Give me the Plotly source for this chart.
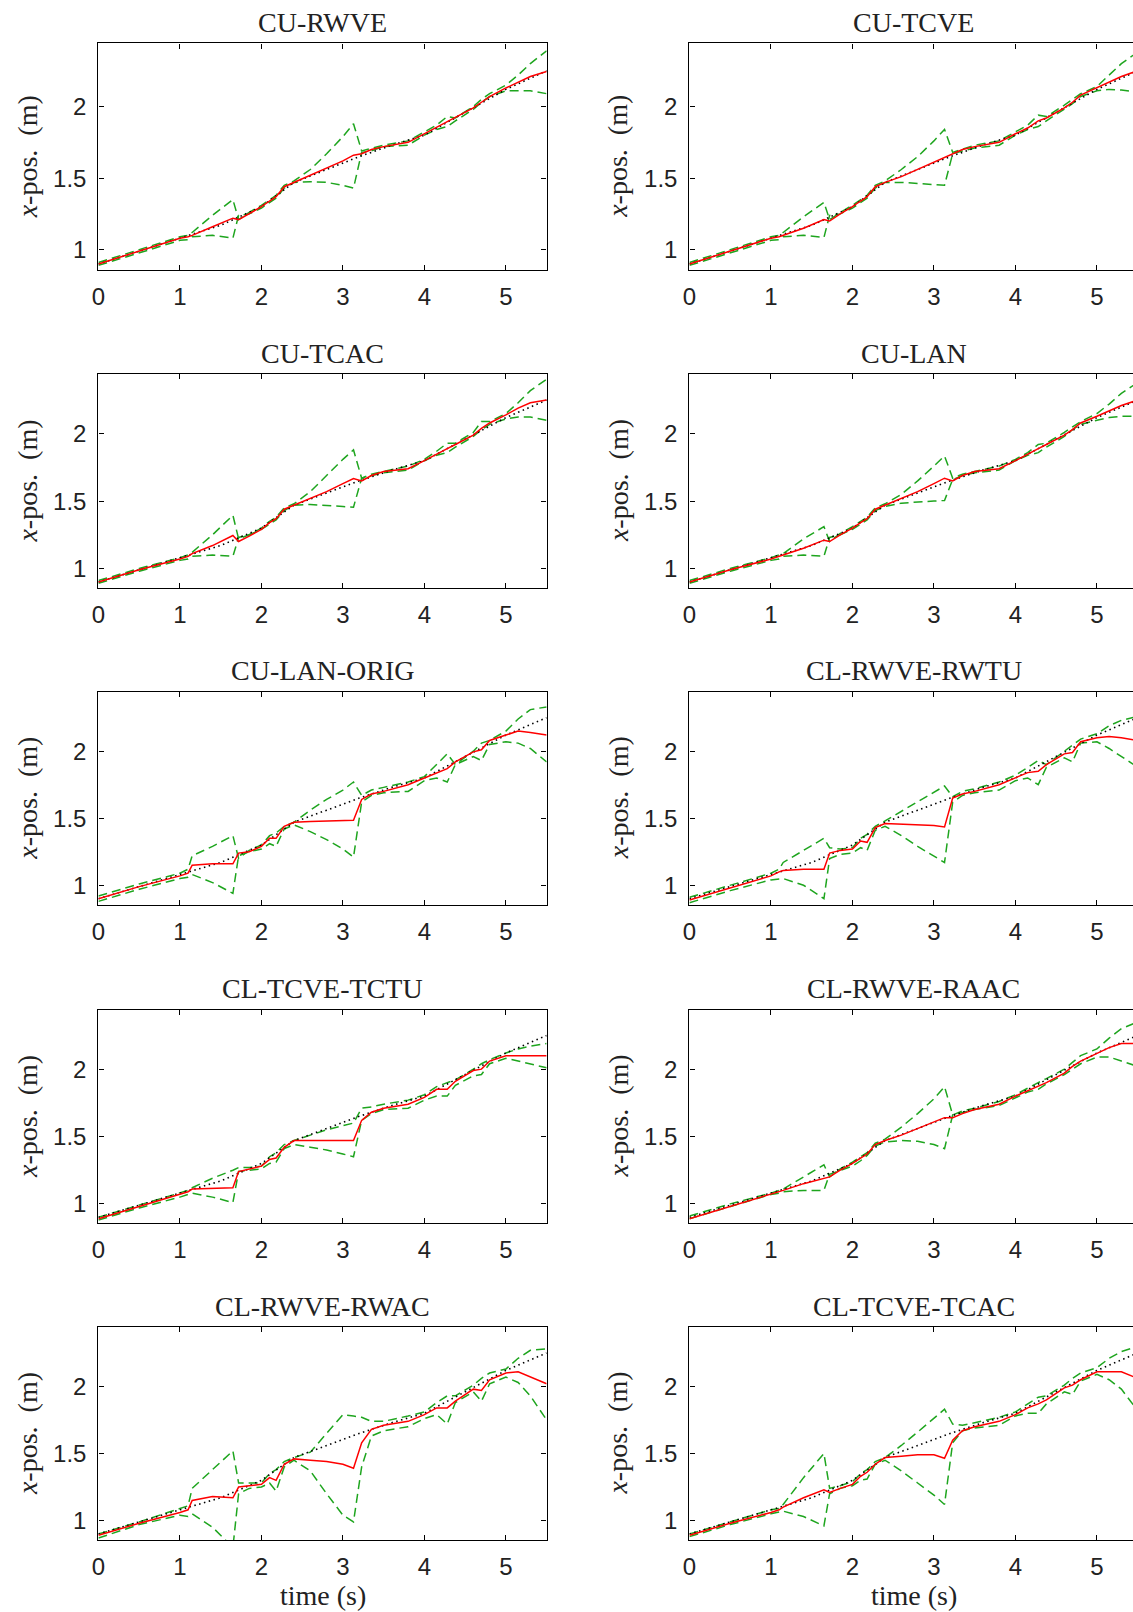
import plotly.graph_objects as go

# ---------------- data ----------------
T = [0.0, 0.5, 1.0, 1.1, 1.15, 1.4, 1.65, 1.72, 1.85, 2.0, 2.1, 2.18, 2.28, 2.4, 2.6, 2.8,
     3.0, 3.13, 3.23, 3.35, 3.5, 3.8, 4.0, 4.15, 4.28, 4.38, 4.6, 4.7, 4.8, 5.0, 5.15, 5.3, 5.5]

REF_T = [0.0, 0.5, 1.0, 1.5, 2.0, 2.4, 2.8, 3.2, 3.6, 4.0, 4.5, 5.0, 5.5]
REF_X = [0.90, 0.99, 1.08, 1.17, 1.30, 1.47, 1.56, 1.65, 1.73, 1.80, 1.96, 2.12, 2.25]

X_TICKS = [0, 1, 2, 3, 4, 5]
Y_TICKS = [1, 1.5, 2]
Y_TICK_TEXT = ["1", "1.5", "2"]

# CU-RWVE
RED_CU_RWVE = [.90, .99, 1.08, 1.09, 1.10, 1.16, 1.22, 1.21, 1.25, 1.30, 1.34, 1.37, 1.44, 1.47, 1.52, 1.57,
               1.62, 1.66, 1.67, 1.70, 1.72, 1.75, 1.81, 1.85, 1.89, 1.92, 1.99, 2.03, 2.07, 2.13, 2.17, 2.21, 2.245]
UP_CU_RWVE = [.91, 1.00, 1.09, 1.10, 1.12, 1.24, 1.35, 1.21, 1.26, 1.31, 1.35, 1.38, 1.45, 1.48, 1.56, 1.67,
              1.79, 1.88, 1.69, 1.71, 1.73, 1.76, 1.82, 1.87, 1.93, 1.92, 2.00, 2.05, 2.09, 2.15, 2.22, 2.30, 2.39]
LO_CU_RWVE = [.89, .98, 1.065, 1.07, 1.09, 1.10, 1.08, 1.24, 1.25, 1.29, 1.33, 1.36, 1.43, 1.47, 1.475, 1.47,
              1.45, 1.43, 1.68, 1.69, 1.72, 1.73, 1.80, 1.84, 1.86, 1.90, 1.98, 2.03, 2.07, 2.11, 2.11, 2.11, 2.09]

# CU-TCVE
RED_CU_TCVE = [.90, .99, 1.08, 1.09, 1.10, 1.15, 1.21, 1.20, 1.25, 1.30, 1.34, 1.37, 1.44, 1.47, 1.51, 1.56,
               1.61, 1.64, 1.67, 1.70, 1.72, 1.75, 1.81, 1.85, 1.90, 1.92, 1.99, 2.03, 2.08, 2.13, 2.17, 2.21, 2.25]
UP_CU_TCVE = [.91, 1.00, 1.09, 1.10, 1.12, 1.23, 1.33, 1.21, 1.26, 1.31, 1.35, 1.38, 1.45, 1.48, 1.56, 1.65,
              1.76, 1.84, 1.68, 1.70, 1.73, 1.76, 1.82, 1.87, 1.94, 1.93, 2.01, 2.05, 2.09, 2.14, 2.22, 2.30, 2.38]
LO_CU_TCVE = [.89, .98, 1.065, 1.07, 1.09, 1.10, 1.085, 1.24, 1.25, 1.29, 1.33, 1.36, 1.43, 1.47, 1.47, 1.465,
              1.455, 1.45, 1.67, 1.69, 1.71, 1.73, 1.80, 1.84, 1.86, 1.90, 1.98, 2.02, 2.07, 2.11, 2.12, 2.115, 2.10]

# CU-TCAC
RED_CU_TCAC = [.90, .99, 1.07, 1.09, 1.11, 1.17, 1.245, 1.20, 1.24, 1.29, 1.34, 1.37, 1.44, 1.47, 1.52, 1.57,
               1.63, 1.667, 1.65, 1.69, 1.72, 1.74, 1.80, 1.85, 1.89, 1.92, 1.99, 2.04, 2.08, 2.14, 2.19, 2.23, 2.25]
UP_CU_TCAC = [.91, 1.00, 1.08, 1.10, 1.12, 1.25, 1.395, 1.22, 1.25, 1.30, 1.35, 1.38, 1.45, 1.48, 1.57, 1.69,
              1.81, 1.88, 1.67, 1.70, 1.72, 1.76, 1.81, 1.87, 1.93, 1.93, 2.01, 2.09, 2.09, 2.15, 2.23, 2.32, 2.405]
LO_CU_TCAC = [.89, .98, 1.06, 1.07, 1.09, 1.10, 1.09, 1.23, 1.25, 1.29, 1.33, 1.36, 1.43, 1.47, 1.475, 1.47,
              1.46, 1.455, 1.67, 1.69, 1.71, 1.73, 1.80, 1.84, 1.86, 1.90, 1.98, 2.03, 2.07, 2.11, 2.125, 2.125, 2.10]

# CU-LAN
RED_CU_LAN = [.90, .99, 1.07, 1.09, 1.10, 1.15, 1.21, 1.20, 1.25, 1.30, 1.34, 1.37, 1.44, 1.47, 1.52, 1.57,
              1.63, 1.67, 1.65, 1.69, 1.72, 1.74, 1.80, 1.85, 1.89, 1.92, 1.99, 2.03, 2.08, 2.13, 2.17, 2.21, 2.25]
UP_CU_LAN = [.91, 1.00, 1.08, 1.10, 1.11, 1.22, 1.31, 1.20, 1.26, 1.31, 1.35, 1.38, 1.45, 1.48, 1.55, 1.65,
             1.76, 1.835, 1.67, 1.70, 1.72, 1.76, 1.81, 1.86, 1.92, 1.93, 2.01, 2.05, 2.09, 2.15, 2.22, 2.30, 2.38]
LO_CU_LAN = [.89, .98, 1.06, 1.07, 1.09, 1.10, 1.09, 1.23, 1.25, 1.29, 1.33, 1.36, 1.43, 1.46, 1.485, 1.49,
             1.50, 1.505, 1.66, 1.69, 1.71, 1.73, 1.80, 1.84, 1.86, 1.90, 1.98, 2.03, 2.07, 2.10, 2.12, 2.13, 2.13]

# CU-LAN-ORIG
RED_CU_LAN_ORIG = [.90, .99, 1.07, 1.09, 1.15, 1.16, 1.16, 1.24, 1.25, 1.29, 1.35, 1.35, 1.44, 1.47, 1.475, 1.48,
                   1.485, 1.485, 1.64, 1.68, 1.70, 1.75, 1.80, 1.84, 1.87, 1.92, 1.995, 2.01, 2.08, 2.12, 2.15, 2.14, 2.12]
UP_CU_LAN_ORIG = [.92, 1.01, 1.09, 1.12, 1.22, 1.29, 1.37, 1.20, 1.26, 1.30, 1.37, 1.39, 1.44, 1.47, 1.56, 1.64,
                  1.71, 1.77, 1.67, 1.71, 1.73, 1.77, 1.81, 1.90, 1.98, 1.90, 2.00, 2.06, 2.08, 2.15, 2.24, 2.31, 2.33]
LO_CU_LAN_ORIG = [.88, .97, 1.05, 1.06, 1.08, 1.02, 0.94, 1.22, 1.25, 1.27, 1.31, 1.29, 1.42, 1.45, 1.40, 1.34,
                  1.27, 1.21, 1.62, 1.67, 1.69, 1.70, 1.78, 1.80, 1.77, 1.90, 1.96, 1.93, 2.05, 2.07, 2.06, 2.02, 1.92]

# CL-RWVE-RWTU
RED_CL_RWVE_RWTU = [.89, .98, 1.07, 1.10, 1.11, 1.12, 1.12, 1.24, 1.26, 1.27, 1.33, 1.32, 1.43, 1.46, 1.455, 1.45,
                    1.445, 1.435, 1.65, 1.68, 1.70, 1.75, 1.80, 1.84, 1.85, 1.90, 1.98, 1.99, 2.07, 2.10, 2.11, 2.10, 2.08]
UP_CL_RWVE_RWTU = [.91, 1.00, 1.09, 1.12, 1.17, 1.26, 1.35, 1.28, 1.27, 1.28, 1.35, 1.38, 1.44, 1.48, 1.55, 1.62,
                   1.69, 1.74, 1.66, 1.70, 1.72, 1.77, 1.82, 1.88, 1.93, 1.90, 2.00, 2.05, 2.09, 2.13, 2.19, 2.23, 2.26]
LO_CL_RWVE_RWTU = [.87, .96, 1.04, 1.05, 1.05, 1.00, 0.90, 1.20, 1.23, 1.24, 1.28, 1.26, 1.41, 1.44, 1.37, 1.29,
                   1.22, 1.17, 1.62, 1.67, 1.69, 1.71, 1.78, 1.80, 1.75, 1.88, 1.95, 1.92, 2.06, 2.07, 2.02, 1.96, 1.88]

# CL-TCVE-TCTU
RED_CL_TCVE_TCTU = [.89, .98, 1.07, 1.09, 1.11, 1.115, 1.12, 1.24, 1.26, 1.28, 1.33, 1.34, 1.42, 1.47, 1.47, 1.47,
                    1.47, 1.47, 1.62, 1.68, 1.71, 1.74, 1.79, 1.85, 1.85, 1.91, 1.99, 2.00, 2.06, 2.10, 2.10, 2.10, 2.10]
UP_CL_TCVE_TCTU = [.90, .99, 1.08, 1.10, 1.12, 1.19, 1.25, 1.27, 1.27, 1.28, 1.35, 1.38, 1.44, 1.47, 1.51, 1.55,
                   1.58, 1.60, 1.71, 1.72, 1.74, 1.77, 1.81, 1.87, 1.90, 1.92, 2.00, 2.04, 2.07, 2.12, 2.15, 2.17, 2.19]
LO_CL_TCVE_TCTU = [.88, .97, 1.05, 1.07, 1.08, 1.05, 1.01, 1.24, 1.25, 1.26, 1.30, 1.31, 1.41, 1.44, 1.42, 1.40,
                   1.37, 1.35, 1.62, 1.67, 1.70, 1.71, 1.77, 1.80, 1.80, 1.88, 1.95, 1.96, 2.04, 2.08, 2.06, 2.04, 2.01]

# CL-RWVE-RAAC
RED_CL_RWVE_RAAC = [.89, .98, 1.07, 1.09, 1.10, 1.15, 1.19, 1.20, 1.25, 1.30, 1.34, 1.37, 1.44, 1.47, 1.51, 1.56,
                    1.61, 1.64, 1.64, 1.67, 1.70, 1.74, 1.80, 1.84, 1.87, 1.90, 1.97, 2.02, 2.06, 2.12, 2.16, 2.19, 2.19]
UP_CL_RWVE_RAAC = [.91, 1.00, 1.08, 1.10, 1.11, 1.20, 1.29, 1.20, 1.26, 1.31, 1.35, 1.38, 1.45, 1.48, 1.57, 1.67,
                   1.78, 1.87, 1.66, 1.69, 1.71, 1.76, 1.81, 1.86, 1.90, 1.93, 2.00, 2.05, 2.10, 2.15, 2.23, 2.30, 2.35]
LO_CL_RWVE_RAAC = [.89, .98, 1.07, 1.08, 1.09, 1.10, 1.10, 1.22, 1.25, 1.28, 1.32, 1.36, 1.43, 1.46, 1.47, 1.465,
                   1.44, 1.41, 1.66, 1.68, 1.70, 1.73, 1.79, 1.83, 1.85, 1.89, 1.96, 2.00, 2.04, 2.09, 2.09, 2.06, 2.02]

# CL-RWVE-RWAC
RED_CL_RWVE_RWAC = [.89, .98, 1.06, 1.08, 1.15, 1.18, 1.17, 1.25, 1.26, 1.27, 1.32, 1.30, 1.42, 1.46, 1.45, 1.44,
                    1.42, 1.39, 1.58, 1.68, 1.71, 1.74, 1.79, 1.84, 1.84, 1.89, 1.98, 1.97, 2.05, 2.10, 2.11, 2.07, 2.02]
UP_CL_RWVE_RWAC = [.90, .99, 1.09, 1.11, 1.24, 1.38, 1.52, 1.28, 1.28, 1.28, 1.35, 1.38, 1.44, 1.47, 1.51, 1.65,
                   1.79, 1.78, 1.77, 1.74, 1.74, 1.78, 1.81, 1.88, 1.93, 1.93, 2.01, 2.06, 2.10, 2.13, 2.21, 2.27, 2.28]
LO_CL_RWVE_RWAC = [.87, .97, 1.04, 1.03, 1.05, 0.95, 0.80, 1.20, 1.24, 1.25, 1.28, 1.22, 1.40, 1.45, 1.37, 1.20,
                   1.04, 0.99, 1.40, 1.63, 1.67, 1.70, 1.76, 1.79, 1.72, 1.88, 1.96, 1.89, 2.02, 2.07, 2.03, 1.93, 1.75]

# CL-TCVE-TCAC
RED_CL_TCVE_TCAC = [.89, .98, 1.06, 1.08, 1.10, 1.17, 1.23, 1.21, 1.24, 1.27, 1.33, 1.36, 1.42, 1.47, 1.48, 1.49,
                    1.49, 1.465, 1.60, 1.67, 1.70, 1.74, 1.79, 1.84, 1.87, 1.90, 1.99, 2.01, 2.05, 2.11, 2.11, 2.11, 2.06]
UP_CL_TCVE_TCAC = [.90, .99, 1.08, 1.09, 1.12, 1.32, 1.50, 1.24, 1.26, 1.29, 1.35, 1.38, 1.44, 1.47, 1.56, 1.66,
                   1.76, 1.83, 1.72, 1.71, 1.73, 1.77, 1.81, 1.87, 1.92, 1.93, 2.01, 2.06, 2.10, 2.14, 2.21, 2.26, 2.30]
LO_CL_TCVE_TCAC = [.88, .97, 1.05, 1.06, 1.07, 1.03, 0.96, 1.20, 1.24, 1.26, 1.30, 1.31, 1.42, 1.45, 1.37, 1.28,
                   1.19, 1.12, 1.58, 1.67, 1.69, 1.71, 1.78, 1.80, 1.80, 1.87, 1.96, 1.94, 2.04, 2.09, 2.05, 1.98, 1.82]

TITLES = ["CU-RWVE", "CU-TCVE", "CU-TCAC", "CU-LAN", "CU-LAN-ORIG", "CL-RWVE-RWTU",
          "CL-TCVE-TCTU", "CL-RWVE-RAAC", "CL-RWVE-RWAC", "CL-TCVE-TCAC"]
REDS = [RED_CU_RWVE, RED_CU_TCVE, RED_CU_TCAC, RED_CU_LAN, RED_CU_LAN_ORIG, RED_CL_RWVE_RWTU,
        RED_CL_TCVE_TCTU, RED_CL_RWVE_RAAC, RED_CL_RWVE_RWAC, RED_CL_TCVE_TCAC]
UPS = [UP_CU_RWVE, UP_CU_TCVE, UP_CU_TCAC, UP_CU_LAN, UP_CU_LAN_ORIG, UP_CL_RWVE_RWTU,
       UP_CL_TCVE_TCTU, UP_CL_RWVE_RAAC, UP_CL_RWVE_RWAC, UP_CL_TCVE_TCAC]
LOS = [LO_CU_RWVE, LO_CU_TCVE, LO_CU_TCAC, LO_CU_LAN, LO_CU_LAN_ORIG, LO_CL_RWVE_RWTU,
       LO_CL_TCVE_TCTU, LO_CL_RWVE_RAAC, LO_CL_RWVE_RWAC, LO_CL_TCVE_TCAC]

# ---------------- layout geometry ----------------
W, H = 1133, 1612
COL_PX = [(92.0, 543.0), (686.7, 1133.0)]
ROW_PX = [(43.3, 270.4), (374.2, 588.0), (691.9, 904.7), (1009.6, 1223.4), (1327.2, 1540.0)]
PX_PER_UNIT = 82.0
Y_RANGE = [0.855, 2.442]
YLAB_X = [20.6, 614.8]

SERIF = "Liberation Serif"
SANS = "Liberation Sans"
GREEN = "#1ea51e"
TXT = "#222222"
LABEL_SIZE = 28

fig = go.Figure()
layout = dict(width=W, height=H, margin=dict(l=0, r=0, t=0, b=0), autosize=False,
              paper_bgcolor="white", plot_bgcolor="white", showlegend=False)
annotations = []

for i, title in enumerate(TITLES):
    row, col = i // 2, i % 2
    n = i + 1
    xa, ya = ("x" if n == 1 else f"x{n}"), ("y" if n == 1 else f"y{n}")
    xkey, ykey = ("xaxis" if n == 1 else f"xaxis{n}"), ("yaxis" if n == 1 else f"yaxis{n}")
    x0, x1 = COL_PX[col]
    top, bot = ROW_PX[row]
    xr = (x1 - x0) / PX_PER_UNIT

    common = dict(showgrid=False, zeroline=False, showline=True, linecolor="black", linewidth=1.4,
                  ticks="inside", ticklen=5, tickwidth=1, tickcolor="black",
                  tickfont=dict(family=SANS, size=24, color=TXT), fixedrange=True)
    layout[xkey] = dict(common, domain=[x0 / W, x1 / W], range=[0, xr], anchor=ya,
                        tickvals=X_TICKS, mirror="ticks", ticklabelstandoff=5)
    layout[ykey] = dict(common, domain=[1 - bot / H, 1 - top / H], range=Y_RANGE, anchor=xa,
                        tickvals=Y_TICKS, ticktext=Y_TICK_TEXT,
                        mirror="ticks" if col == 0 else False, ticklabelstandoff=6)

    fig.add_trace(go.Scatter(x=T, y=LOS[i], mode="lines", xaxis=xa, yaxis=ya,
                             line=dict(color=GREEN, width=1.5, dash="9px,5px")))
    fig.add_trace(go.Scatter(x=T, y=UPS[i], mode="lines", xaxis=xa, yaxis=ya,
                             line=dict(color=GREEN, width=1.5, dash="9px,5px")))
    fig.add_trace(go.Scatter(x=REF_T, y=REF_X, mode="lines", xaxis=xa, yaxis=ya,
                             line=dict(color="black", width=1.6, dash="1.5px,3.5px")))
    fig.add_trace(go.Scatter(x=T, y=REDS[i], mode="lines", xaxis=xa, yaxis=ya,
                             line=dict(color="#ff0000", width=1.5)))

    cx = x0 + 5.5 * PX_PER_UNIT / 2
    annotations.append(dict(text=title, x=cx / W, y=1 - top / H, xref="paper", yref="paper",
                            xanchor="center", yanchor="middle", yshift=21, showarrow=False,
                            font=dict(family=SERIF, size=LABEL_SIZE, color=TXT)))
    annotations.append(dict(text="<i>x</i>-pos.\u00a0 (m)", x=YLAB_X[col] / W, y=1 - (top + bot) / 2 / H,
                            xref="paper", yref="paper", xanchor="center", yanchor="middle",
                            textangle=-90, showarrow=False,
                            font=dict(family=SERIF, size=LABEL_SIZE, color=TXT)))
    if row == 4:
        annotations.append(dict(text="time (s)", x=cx / W, y=1 - 1595.6 / H, xref="paper", yref="paper",
                                xanchor="center", yanchor="middle", showarrow=False,
                                font=dict(family=SERIF, size=LABEL_SIZE, color=TXT)))

layout["annotations"] = annotations
fig.update_layout(**layout)
fig.write_html("out.html")
